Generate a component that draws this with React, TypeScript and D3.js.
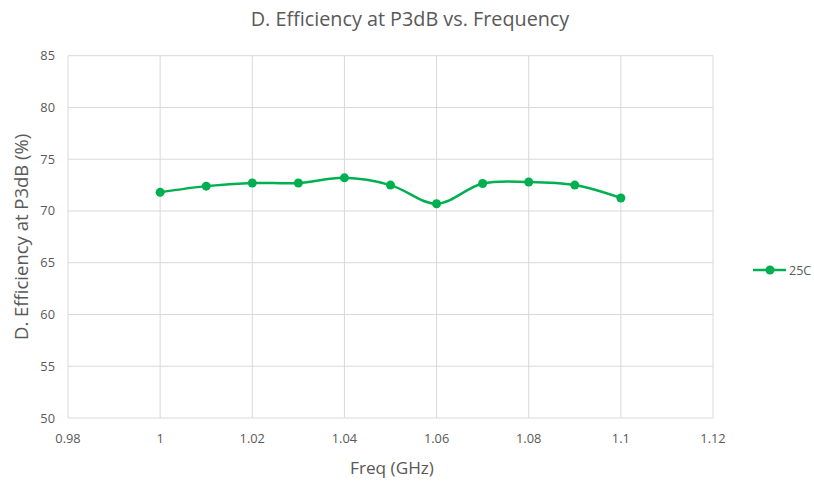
import React from "react";
import * as d3 from "d3";

const freqs = [1.0, 1.01, 1.02, 1.03, 1.04, 1.05, 1.06, 1.07, 1.08, 1.09, 1.1];
const eff25C = [71.8, 72.4, 72.7, 72.7, 73.2, 72.5, 70.7, 72.65, 72.8, 72.5, 71.25];
const xTicks = [0.98, 1.0, 1.02, 1.04, 1.06, 1.08, 1.1, 1.12];
const yTicks = [50, 55, 60, 65, 70, 75, 80, 85];
const seriesName = "25C";

const W = 814, H = 484;
const left = 68, right = 713, top = 55.7, bottom = 418;
const font = "'Open Sans', 'Noto Sans', sans-serif";
const green = "#00B050";
const grid = "#d9d9d9";
const textCol = "#595959";

export default function App() {
  const x = d3.scaleLinear().domain([0.98, 1.12]).range([left, right]);
  const y = d3.scaleLinear().domain([50, 85]).range([bottom, top]);
  const pts: [number, number][] = freqs.map((f, i) => [x(f), y(eff25C[i])]);
  const line = d3.line().curve(d3.curveCatmullRom.alpha(0.5))(pts) || "";
  const fmt = (v: number) => String(+v.toFixed(2));
  return (
    <svg width={W} height={H} style={{ position: "absolute", left: 0, top: 0, background: "#fff" }}>
      <text x={410} y={26} textAnchor="middle" fontFamily={font} fontSize={19.8} fill={textCol}>
        D. Efficiency at P3dB vs. Frequency
      </text>
      {yTicks.map((t) => (
        <g key={"y" + t}>
          <line x1={left} x2={right} y1={y(t)} y2={y(t)} stroke={grid} strokeWidth={1} />
          <text x={55} y={y(t) + 4.5} textAnchor="end" fontFamily={font} fontSize={12.8} fill={textCol}>
            {t}
          </text>
        </g>
      ))}
      {xTicks.map((t) => (
        <g key={"x" + t}>
          <line x1={x(t)} x2={x(t)} y1={top} y2={bottom} stroke={grid} strokeWidth={1} />
          <text x={x(t)} y={443} textAnchor="middle" fontFamily={font} fontSize={12.8} fill={textCol}>
            {fmt(t)}
          </text>
        </g>
      ))}
      <text x={392} y={474} textAnchor="middle" fontFamily={font} fontSize={17.2} fill={textCol}>
        Freq (GHz)
      </text>
      <text
        transform={`translate(28,${(top + bottom) / 2}) rotate(-90)`}
        textAnchor="middle"
        fontFamily={font}
        fontSize={18.5}
        fill={textCol}
      >
        D. Efficiency at P3dB (%)
      </text>
      <path d={line} fill="none" stroke={green} strokeWidth={2.5} />
      {pts.map((p, i) => (
        <circle key={i} cx={p[0]} cy={p[1]} r={4.5} fill={green} />
      ))}
      <line x1={753} x2={786} y1={270} y2={270} stroke={green} strokeWidth={2.5} />
      <circle cx={770} cy={270} r={4.5} fill={green} />
      <text x={789} y={274.5} fontFamily={font} fontSize={12.5} fill={textCol}>
        {seriesName}
      </text>
    </svg>
  );
}
